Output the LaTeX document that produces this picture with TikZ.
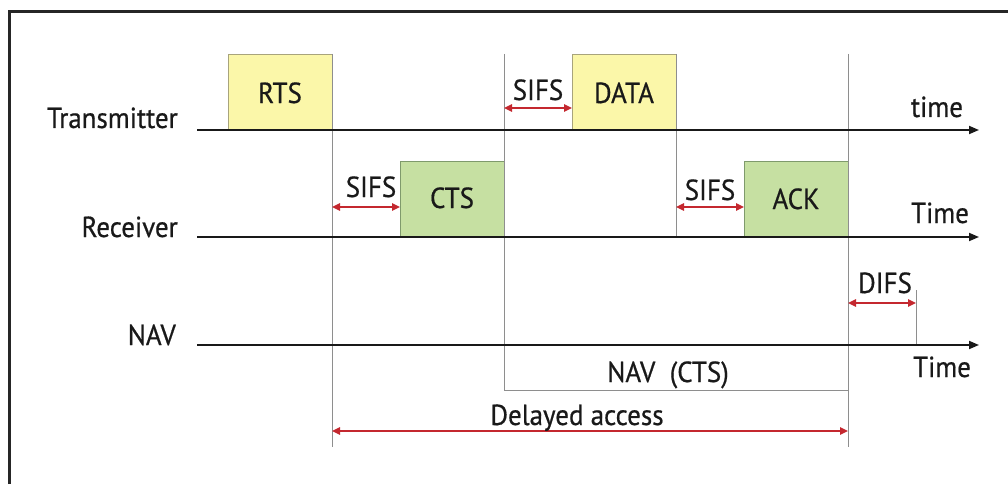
\documentclass[tikz,border=0pt]{standalone}
\usepackage{fontspec}
\setmainfont[FakeStretch=0.93,FakeBold=0.6]{PT Sans}
\usetikzlibrary{arrows.meta}
\definecolor{framefill}{HTML}{FBF7A9}
\definecolor{frameline}{HTML}{A8A47C}
\definecolor{ctrlfill}{HTML}{C6E0A2}
\definecolor{ctrlline}{HTML}{7F9A6C}
\definecolor{spanred}{HTML}{C4282F}
\definecolor{guide}{HTML}{8E8E8E}
\begin{document}
\begin{tikzpicture}[x=1pt,y=-1pt,
  outline/.style={draw=black!85,line width=3pt},
  axis/.style={draw=black!90,line width=1.8pt,-{Triangle[length=10pt,width=8pt]}},
  guideline/.style={draw=guide,line width=0.8pt},
  span/.style={draw=spanred,line width=1.6pt,
    {Triangle[length=8pt,width=7.5pt]}-{Triangle[length=8pt,width=7.5pt]}},
  pkt/.style={minimum width=104pt,minimum height=76pt,inner sep=0pt,outer sep=0pt,
    anchor=south west,line width=0.8pt},
  datapkt/.style={pkt,fill=framefill,draw=frameline},
  ctrlpkt/.style={pkt,fill=ctrlfill,draw=ctrlline},
  lbl/.style={inner sep=0pt,text=black!90,font=\fontsize{29}{29}\selectfont}]
\useasboundingbox (0,0) rectangle (1008,484);

% outer frame (top and left edges)
\draw[outline] (9,484) -- (9,12) -- (1008,12);

% packets
\node[datapkt] (rts)  at (228,130) {};
\node[datapkt] (data) at (572,130) {};
\node[ctrlpkt] (cts)  at (400,237) {};
\node[ctrlpkt] (ack)  at (744,237) {};
\node[lbl,anchor=base] (rtst)  at (280,103) {RTS};
\node[lbl,anchor=base] (datat) at (624,103) {DATA};
\node[lbl,anchor=base] (ctst)  at (452,208) {CTS};
\node[lbl,anchor=base] (ackt)  at (796,209) {ACK};

% timing guide lines
\coordinate (g1a) at (332,54);  \coordinate (g1b) at (332,447);
\coordinate (g2a) at (504,54);  \coordinate (g2b) at (504,390);
\coordinate (g3a) at (676,54);  \coordinate (g3b) at (676,237);
\coordinate (g4a) at (848,54);  \coordinate (g4b) at (848,447);
\coordinate (g4c) at (848,390);
\coordinate (g5a) at (916,290); \coordinate (g5b) at (916,345);
\draw[guideline] (g1a) -- (g1b);
\draw[guideline] (g2a) -- (g2b) -- (g4c);
\draw[guideline] (g3a) -- (g3b);
\draw[guideline] (g4a) -- (g4b);
\draw[guideline] (g5a) -- (g5b);

% station time axes
\coordinate (txs) at (197,130); \coordinate (txe) at (979,130);
\coordinate (rxs) at (197,237); \coordinate (rxe) at (979,237);
\coordinate (nvs) at (197,345); \coordinate (nve) at (979,345);
\draw[axis] (txs) -- (txe);
\draw[axis] (rxs) -- (rxe);
\draw[axis] (nvs) -- (nve);
\node[lbl,anchor=base east] (tx) at (178,128) {Transmitter};
\node[lbl,anchor=base east] (rx) at (178,237) {Receiver};
\node[lbl,anchor=base east] (nv) at (176,345) {NAV};
\node[lbl,anchor=base] (tt1) at (937,117) {time};
\node[lbl,anchor=base] (tt2) at (940,223) {Time};
\node[lbl,anchor=base] (tt3) at (942,377) {Time};

% interframe spaces
\coordinate (s1a) at (332,207); \coordinate (s1b) at (400,207);
\coordinate (s2a) at (504,108); \coordinate (s2b) at (572,108);
\coordinate (s3a) at (676,207); \coordinate (s3b) at (744,207);
\coordinate (d1a) at (848,303); \coordinate (d1b) at (916,303);
\coordinate (dla) at (332,431); \coordinate (dlb) at (848,431);
\draw[span] (s1a) -- (s1b);
\draw[span] (s2a) -- (s2b);
\draw[span] (s3a) -- (s3b);
\draw[span] (d1a) -- (d1b);
\draw[span] (dla) -- (dlb);
\node[lbl,anchor=base] (sifs1) at (371,197) {SIFS};
\node[lbl,anchor=base] (sifs2) at (538,100) {SIFS};
\node[lbl,anchor=base] (sifs3) at (710,200) {SIFS};
\node[lbl,anchor=base] (difs)  at (885,293) {DIFS};
\node[lbl,anchor=base] (navc)  at (668,382) {NAV\ \ (CTS)};
\node[lbl,anchor=base] (dly)   at (577,425) {Delayed access};
\end{tikzpicture}
\end{document}
